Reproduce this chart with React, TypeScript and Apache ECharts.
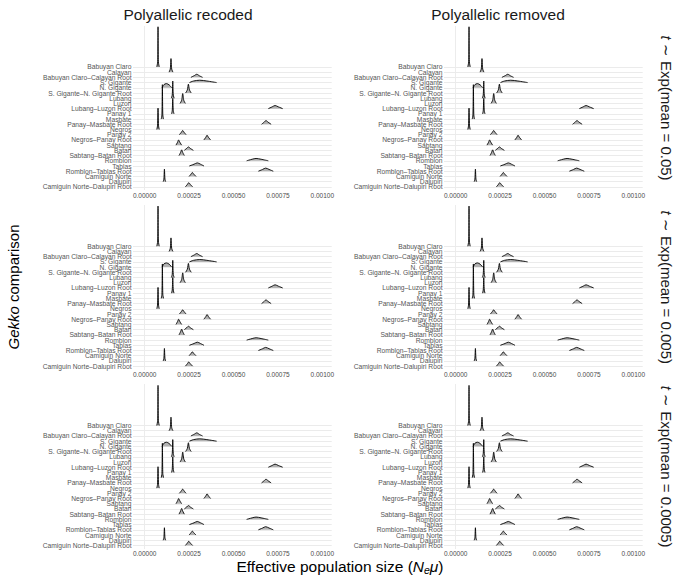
import React, { useEffect, useRef } from "react";
import * as echarts from "echarts";

const FONT = "'Liberation Sans', Arial, Helvetica, sans-serif";

const categories = [
  "Babuyan Claro",
  "Calayan",
  "Babuyan Claro–Calayan Root",
  "S. Gigante",
  "N. Gigante",
  "S. Gigante–N. Gigante Root",
  "Lubang",
  "Luzon",
  "Lubang–Luzon Root",
  "Panay 1",
  "Masbate",
  "Panay–Masbate Root",
  "Negros",
  "Panay 2",
  "Negros–Panay Root",
  "Sabtang",
  "Batan",
  "Sabtang–Batan Root",
  "Romblon",
  "Tablas",
  "Romblon–Tablas Root",
  "Camiguin Norte",
  "Dalupiri",
  "Camiguin Norte–Dalupiri Root",
];

const xTicks = [0, 0.00025, 0.0005, 0.00075, 0.001];
const xMinorGrid = [0.000125, 0.000375, 0.000625, 0.000875];
const columnTitles = ["Polyallelic recoded", "Polyallelic removed"];
const rowMeans = ["0.05", "0.005", "0.0005"];

// Ridge outlines: [Ne*mu, height above the row baseline in row units]
const ridgeBabuyanClaro = [[6.8e-5, 0], [7.3e-5, 1.0], [7.5e-5, 7.7], [7.7e-5, 1.0], [8.2e-5, 0]];
const ridgeCalayan = [[1.37e-4, 0], [1.44e-4, 0.6], [1.48e-4, 2.6], [1.52e-4, 0.6], [1.59e-4, 0]];
const ridgeBabuyanCalayanRoot = [[2.6e-4, 0], [2.8e-4, 0.35], [2.93e-4, 0.6], [3.08e-4, 0.3], [3.26e-4, 0]];
const ridgeSGigante = [[2.52e-4, 0], [2.75e-4, 0.3], [3.1e-4, 0.45], [3.5e-4, 0.3], [4.05e-4, 0]];
const ridgeNGigante = [[0.98e-4, 0], [1.08e-4, 0.6], [1.22e-4, 0.8], [1.38e-4, 0.55], [1.52e-4, 0]];
const ridgeGiganteRoot = [[2.3e-4, 0], [2.4e-4, 0.6], [2.46e-4, 1.7], [2.52e-4, 0.6], [2.62e-4, 0]];
const ridgeLubang = [[1.5e-4, 0], [1.55e-4, 0.6], [1.58e-4, 3.3], [1.61e-4, 0.6], [1.66e-4, 0]];
const ridgeLuzon = [[1.99e-4, 0], [2.08e-4, 0.6], [2.14e-4, 1.9], [2.2e-4, 0.6], [2.29e-4, 0]];
const ridgeLubangLuzonRoot = [[6.96e-4, 0], [7.18e-4, 0.35], [7.34e-4, 0.6], [7.52e-4, 0.35], [7.77e-4, 0]];
const ridgePanay1 = [[1.51e-4, 0], [1.55e-4, 0.6], [1.58e-4, 3.0], [1.61e-4, 0.6], [1.65e-4, 0]];
const ridgeMasbate = [[0.93e-4, 0], [0.97e-4, 0.8], [0.995e-4, 6.6], [1.02e-4, 0.8], [1.06e-4, 0]];
const ridgePanayMasbateRoot = [[6.58e-4, 0], [6.72e-4, 0.4], [6.83e-4, 0.7], [6.95e-4, 0.4], [7.12e-4, 0]];
const ridgeNegros = [[0.68e-4, 0], [0.72e-4, 0.7], [0.75e-4, 4.1], [0.78e-4, 0.7], [0.82e-4, 0]];
const ridgePanay2 = [[1.95e-4, 0], [2.06e-4, 0.45], [2.14e-4, 0.8], [2.22e-4, 0.45], [2.33e-4, 0]];
const ridgeNegrosPanayRoot = [[3.33e-4, 0], [3.44e-4, 0.5], [3.51e-4, 0.9], [3.59e-4, 0.5], [3.71e-4, 0]];
const ridgeSabtang = [[1.76e-4, 0], [1.85e-4, 0.55], [1.91e-4, 1.0], [1.98e-4, 0.55], [2.08e-4, 0]];
const ridgeBatan = [[2.23e-4, 0], [2.37e-4, 0.4], [2.46e-4, 0.65], [2.58e-4, 0.35], [2.74e-4, 0]];
const ridgeSabtangBatanRoot = [[1.93e-4, 0], [2.02e-4, 0.6], [2.08e-4, 1.1], [2.14e-4, 0.6], [2.23e-4, 0]];
const ridgeRomblon = [[5.74e-4, 0], [6.05e-4, 0.3], [6.27e-4, 0.45], [6.55e-4, 0.3], [6.96e-4, 0]];
const ridgeTablas = [[2.51e-4, 0], [2.78e-4, 0.35], [2.96e-4, 0.6], [3.14e-4, 0.35], [3.34e-4, 0]];
const ridgeRomblonTablasRoot = [[6.4e-4, 0], [6.64e-4, 0.35], [6.81e-4, 0.6], [7.0e-4, 0.35], [7.24e-4, 0]];
const ridgeCamiguinNorte = [[2.5e-4, 0], [2.61e-4, 0.45], [2.68e-4, 0.75], [2.76e-4, 0.45], [2.89e-4, 0]];
const ridgeDalupiri = [[1.04e-4, 0], [1.08e-4, 0.5], [1.11e-4, 2.4], [1.14e-4, 0.5], [1.18e-4, 0]];
const ridgeCamiguinDalupiriRoot = [[2.29e-4, 0], [2.4e-4, 0.45], [2.48e-4, 0.8], [2.57e-4, 0.45], [2.7e-4, 0]];

const ridges = [
  ridgeBabuyanClaro, ridgeCalayan, ridgeBabuyanCalayanRoot, ridgeSGigante, ridgeNGigante,
  ridgeGiganteRoot, ridgeLubang, ridgeLuzon, ridgeLubangLuzonRoot, ridgePanay1, ridgeMasbate,
  ridgePanayMasbateRoot, ridgeNegros, ridgePanay2, ridgeNegrosPanayRoot, ridgeSabtang, ridgeBatan,
  ridgeSabtangBatanRoot, ridgeRomblon, ridgeTablas, ridgeRomblonTablasRoot, ridgeCamiguinNorte,
  ridgeDalupiri, ridgeCamiguinDalupiriRoot,
];

function buildOption() {
  const n = categories.length;
  const colLeft = [133, 444];
  const gridW = 198.7;
  const gridH = 164;
  const yMin = -0.6;
  const yMax = 30.85;
  const rowTop = [26, 205.3, 384.6];
  const grids: any[] = [];
  const xAxes: any[] = [];
  const yAxes: any[] = [];
  const labelGrids: any[] = [];
  const labelX: any[] = [];
  const labelY: any[] = [];
  const series: any[] = [];
  const graphic: any[] = [];
  const panelCount = rowMeans.length * columnTitles.length;

  rowMeans.forEach((mean, r) => {
    columnTitles.forEach((_, c) => {
      const g = grids.length;
      grids.push({ left: colLeft[c], top: rowTop[r], width: gridW, height: gridH, containLabel: false });
      xAxes.push({
        type: "value", gridIndex: g, min: -6.59e-5, max: 1.0529e-3,
        axisLine: { show: false }, axisTick: { show: false }, splitLine: { show: false },
        axisLabel: {
          customValues: xTicks, formatter: (v: number) => v.toFixed(5),
          showMinLabel: true, showMaxLabel: true,
          fontSize: 6.5, color: "#4d4d4d", margin: 1.5, fontFamily: FONT,
        },
      });
      yAxes.push({
        type: "value", gridIndex: g, min: yMin, max: yMax,
        axisLine: { show: false }, axisTick: { show: false }, splitLine: { show: false },
        axisLabel: { show: false },
      });
      // label strip spanning exactly the row baselines (top row to bottom row)
      const unit = gridH / (yMax - yMin);
      const lg = panelCount + g;
      labelGrids.push({
        left: colLeft[c], width: gridW,
        top: rowTop[r] + (yMax - (n - 1)) * unit,
        height: (n - 1) * unit, containLabel: false,
      });
      labelX.push({ type: "value", gridIndex: lg, show: false });
      labelY.push({
        type: "category", gridIndex: lg, data: categories, inverse: true, boundaryGap: false,
        axisLine: { show: false }, axisTick: { show: false }, splitLine: { show: false },
        axisLabel: { interval: 0, fontSize: 6.7, color: "#555555", margin: 1.5, fontFamily: FONT },
      });

      const gridLineData: any[] = [];
      xTicks.forEach((v) => gridLineData.push({ xAxis: v, lineStyle: { color: "#ebebeb", width: 1, type: "solid" } }));
      xMinorGrid.forEach((v) => gridLineData.push({ xAxis: v, lineStyle: { color: "#ededed", width: 0.7, type: "solid" } }));
      categories.forEach((_, i) => gridLineData.push({ yAxis: n - 1 - i, lineStyle: { color: "#ebebeb", width: 1, type: "solid" } }));
      series.push({
        type: "line", xAxisIndex: g, yAxisIndex: g, z: 1, silent: true,
        data: [[0, yMin]], symbol: "none", lineStyle: { opacity: 0 },
        markLine: { z: 1, silent: true, symbol: ["none", "none"], label: { show: false }, data: gridLineData },
      });
      ridges.forEach((pts, i) => {
        const base = n - 1 - i;
        series.push({
          type: "line", xAxisIndex: g, yAxisIndex: g, z: 3, silent: true,
          data: pts.map(([x, h]) => [x, base + h]),
          smooth: 0.3, symbol: "none",
          lineStyle: { color: "#000000", width: 0.9 },
          areaStyle: { color: "#b3b3b3", opacity: 1, origin: base },
        });
      });
    });
    graphic.push({
      type: "text", x: 666, y: rowTop[r] + gridH / 2, rotation: -Math.PI / 2,
      style: {
        text: `{i|t} ∼ Exp(mean = ${mean})`,
        rich: { i: { fontStyle: "italic", fontSize: 15, fontFamily: FONT, fill: "#1a1a1a" } },
        fontSize: 15, fontFamily: FONT, fill: "#1a1a1a", align: "center", verticalAlign: "middle",
      },
    });
  });

  columnTitles.forEach((t, c) => {
    graphic.push({
      type: "text", x: c === 0 ? 188 : 498, y: 14,
      style: { text: t, fontSize: 15.5, fontFamily: FONT, fill: "#1a1a1a", align: "center", verticalAlign: "middle" },
    });
  });

  graphic.push({
    type: "text", x: 13, y: 287, rotation: Math.PI / 2,
    style: {
      text: "{i|Gekko} comparison",
      rich: { i: { fontStyle: "italic", fontSize: 15, fontFamily: FONT, fill: "#000" } },
      fontSize: 15, fontFamily: FONT, fill: "#000", align: "center", verticalAlign: "middle",
    },
  });

  graphic.push({
    type: "text", x: 340, y: 566,
    style: {
      text: "{t|Effective population size (}{i|N}{s|e}{i|μ}{t|)}",
      rich: {
        t: { fontSize: 15.5, fontFamily: FONT, fill: "#000", lineHeight: 18 },
        i: { fontSize: 15.5, fontFamily: FONT, fontStyle: "italic", fill: "#000", lineHeight: 18 },
        s: { fontSize: 10.5, fontFamily: FONT, fontStyle: "italic", fill: "#000", lineHeight: 10, verticalAlign: "bottom" },
      },
      align: "center", verticalAlign: "middle",
    },
  });

  return {
    animation: false,
    backgroundColor: "#ffffff",
    grid: grids.concat(labelGrids),
    xAxis: xAxes.concat(labelX),
    yAxis: yAxes.concat(labelY),
    series,
    graphic,
  };
}

export default function App() {
  const ref = useRef<HTMLDivElement>(null);
  useEffect(() => {
    if (!ref.current) return;
    const chart = echarts.init(ref.current, undefined, { renderer: "svg" });
    chart.setOption(buildOption() as any);
    return () => chart.dispose();
  }, []);
  return (
    <div
      ref={ref}
      style={{ position: "fixed", left: 0, top: 0, width: 677, height: 578, background: "#fff" }}
    />
  );
}
